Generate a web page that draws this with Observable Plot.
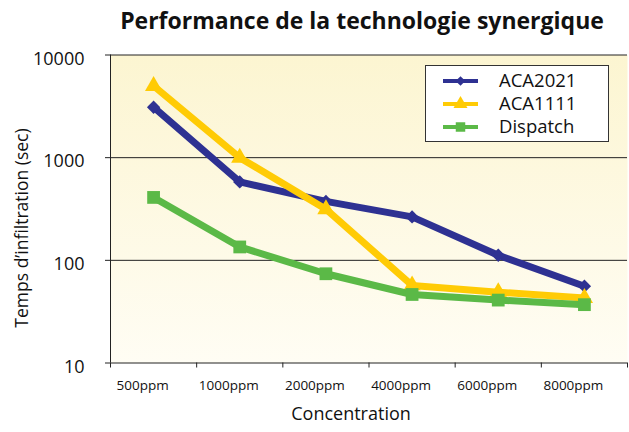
<!DOCTYPE html>
<html><head><meta charset="utf-8">
<script src="https://cdn.jsdelivr.net/npm/d3@7"></script>
<script src="https://cdn.jsdelivr.net/npm/@observablehq/plot@0.6"></script>
<style>
body{margin:0;background:#fff;font-family:"Open Sans",sans-serif;}
#wrap{position:relative;width:629px;height:432px;overflow:hidden;}
#title{height:40px;line-height:40px;box-sizing:border-box;padding-left:95px;width:629px;text-align:center;font-weight:bold;font-size:23px;color:#111;}
#legend{position:absolute;left:425px;top:65px;}
</style></head><body>
<div id="wrap"><div id="title">Performance de la technologie synergique</div><div id="chart"></div><div id="legend"></div></div>
<script>
const categories = ["500ppm","1000ppm","2000ppm","4000ppm","6000ppm","8000ppm"];
const aca2021 = [3100, 580, 375, 265, 112, 56];
const aca1111 = [5000, 1000, 315, 57, 49, 43];
const dispatch = [410, 135, 74, 46.5, 41, 37];
const seriesNames = ["ACA2021","ACA1111","Dispatch"];
const seriesColors = ["#2e3192","#ffcb05","#5bb947"];
const seriesSymbols = ["diamond2","triangle","square"];
const seriesR = [6, 6.4, 7.2];
const yTicks = [10,100,1000,10000];

const seriesValues = [aca2021, aca1111, dispatch];
const rows = [];
seriesNames.forEach((s, k) => seriesValues[k].forEach((v, i) => rows.push({series: s, k, i, cat: categories[i], v})));
const idx = categories.map((c, i) => i);
const bounds = d3.range(categories.length + 1).map(i => i - 0.5);

const marks = [
  Plot.frame({fill: "url(#bg)", stroke: "none"}),
  Plot.ruleY(yTicks, {stroke: "#222", strokeWidth: 1}),
  Plot.ruleX([bounds[0]], {stroke: "#222", strokeWidth: 1}),
];
seriesNames.forEach((s, k) => {
  const d = rows.filter(r => r.k === k);
  marks.push(Plot.line(d, {x: "i", y: "v", stroke: seriesColors[k], strokeWidth: 7, strokeLinejoin: "round"}));
  marks.push(Plot.dot(d, {x: "i", y: "v", fill: seriesColors[k], stroke: "none", symbol: seriesSymbols[k], r: seriesR[k]}));
});
marks.push(
  Plot.axisY({ticks: yTicks, tickSize: 5, tickFormat: () => "", label: null, stroke: "#222"}),
  Plot.axisY({ticks: yTicks, tickSize: 0, tickPadding: 26, tickFormat: d3.format("d"), fontSize: 18, dy: 4, label: null, fill: "#111"}),
  Plot.axisX({ticks: bounds, tickSize: 5, tickFormat: () => "", label: null, stroke: "#222"}),
  Plot.axisX({ticks: idx, tickSize: 0, tickPadding: 17, tickFormat: i => categories[i], fontSize: 13.5, dx: -11, label: null, fill: "#111"}),
  Plot.text(["Concentration"], {text: d => d, frameAnchor: "bottom", textAnchor: "middle", dx: -18, dy: 57, fontSize: 18, fill: "#111"}),
  Plot.text(["Temps d\u2019infiltration (sec)"], {text: d => d, frameAnchor: "left", textAnchor: "middle", rotate: -90, dx: -88, dy: 19, fontSize: 17.5, fill: "#111"})
);

const plot = Plot.plot({
  width: 629, height: 392,
  marginTop: 14.5, marginBottom: 69.5, marginLeft: 110, marginRight: 2,
  style: {fontFamily: "Open Sans", background: "transparent"},
  x: {type: "linear", domain: [bounds[0], bounds[bounds.length - 1]], axis: null},
  y: {type: "log", domain: [10, 10000], axis: null},
  marks
});
const ns = "http://www.w3.org/2000/svg";
const defs = document.createElementNS(ns, "defs");
defs.innerHTML = '<linearGradient id="bg" x1="0" y1="0" x2="0" y2="1"><stop offset="0" stop-color="#fcf5d1"/><stop offset="1" stop-color="#fffdf4"/></linearGradient>';
plot.insertBefore(defs, plot.firstChild);
document.getElementById("chart").appendChild(plot);

// legend
const lg = d3.select("#legend").append("svg").attr("width", 185).attr("height", 78);
lg.append("rect").attr("x", 0.5).attr("y", 0.5).attr("width", 183).attr("height", 76).attr("fill", "#fff").attr("stroke", "#333").attr("stroke-width", 1);
const symMap = {diamond2: d3.symbolDiamond2, triangle: d3.symbolTriangle, square: d3.symbolSquare};
const legSize = [60, 85, 90];
seriesNames.forEach((s, k) => {
  const y = 16 + k * 23;
  const g = lg.append("g");
  g.append("line").attr("x1", 18).attr("x2", 53).attr("y1", y).attr("y2", y).attr("stroke", seriesColors[k]).attr("stroke-width", 4);
  g.append("path").attr("d", d3.symbol(symMap[seriesSymbols[k]], legSize[k])()).attr("transform", `translate(35.5,${y})`).attr("fill", seriesColors[k]);
  g.append("text").attr("x", 74).attr("y", y).attr("dy", "0.35em").attr("font-size", 18.5).attr("font-family", "Open Sans").attr("fill", "#111").text(s);
});
</script>
</body></html>
